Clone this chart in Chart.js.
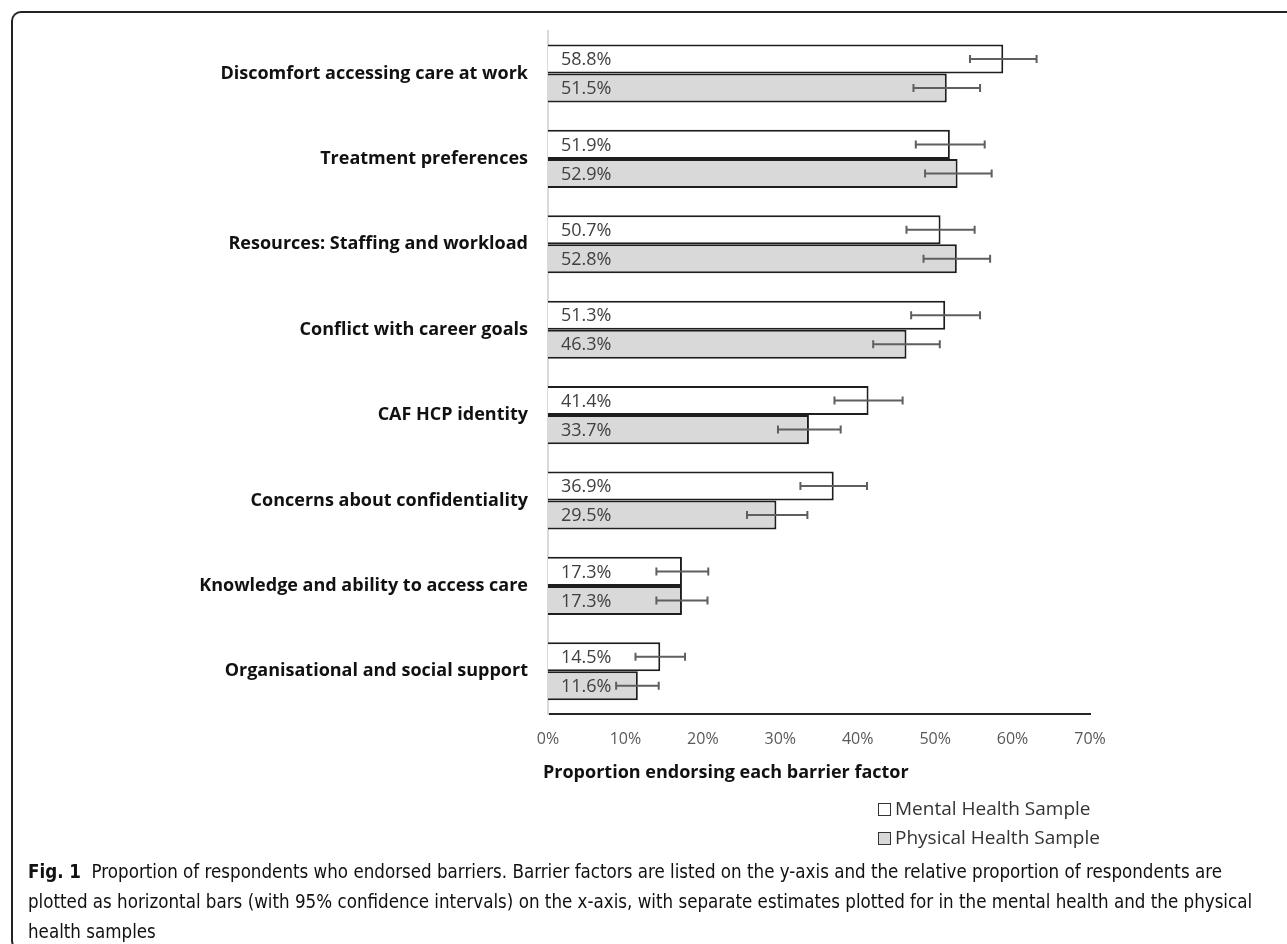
<!DOCTYPE html>
<html>
<head>
<meta charset="utf-8">
<script src="https://cdn.jsdelivr.net/npm/chart.js@4.4.0/dist/chart.umd.min.js"></script>
<style>
  html, body { margin:0; padding:0; background:#fff; width:1287px; height:944px; overflow:hidden; }
  #frame { position:absolute; left:11px; top:11px; width:1300px; height:940px; border-top:2px solid #222; border-left:2px solid #222; border-bottom:2px solid #222; border-radius:10px 0 0 10px; box-sizing:border-box; }
  #wrap { position:absolute; left:0; top:0; width:1287px; height:860px; }
  #xtitle { position:absolute; left:543px; top:759px; font-family:"Open Sans", sans-serif; font-weight:bold; font-size:18px; color:#111; white-space:nowrap; }
  .leg { position:absolute; left:878px; height:26px; line-height:26px; font-family:"Open Sans", sans-serif; font-size:19px; color:#333; white-space:nowrap; }
  .leg i { display:inline-block; width:11px; height:11px; border:1.5px solid #333; margin-right:4px; vertical-align:-1px; }
  #caption { position:absolute; left:28px; top:857px; font-family:"DejaVu Sans Condensed", "Liberation Sans Narrow", sans-serif; font-size:18.6px; line-height:30px; color:#111; white-space:nowrap; }
</style>
</head>
<body>
<div id="frame"></div>
<div id="wrap"><canvas id="c" width="1287" height="860"></canvas></div>
<div id="xtitle">Proportion endorsing each barrier factor</div>
<div class="leg" style="top:795px;"><i style="background:#fff"></i>Mental Health Sample</div>
<div class="leg" style="top:824px;"><i style="background:#d9d9d9"></i>Physical Health Sample</div>
<div id="caption"><b>Fig. 1</b>&nbsp; Proportion of respondents who endorsed barriers. Barrier factors are listed on the y-axis and the relative proportion of respondents are<br>plotted as horizontal bars (with 95% confidence intervals) on the x-axis, with separate estimates plotted for in the mental health and the physical<br>health samples</div>
<script>
const categories = [
  "Discomfort accessing care at work",
  "Treatment preferences",
  "Resources: Staffing and workload",
  "Conflict with career goals",
  "CAF HCP identity",
  "Concerns about confidentiality",
  "Knowledge and ability to access care",
  "Organisational and social support"
];
const mentalValues   = [58.8, 51.9, 50.7, 51.3, 41.4, 36.9, 17.3, 14.5];
const mentalLow      = [54.5, 47.5, 46.3, 46.9, 37.0, 32.6, 14.0, 11.3];
const mentalHigh     = [63.1, 56.4, 55.1, 55.8, 45.8, 41.2, 20.7, 17.7];
const physicalValues = [51.5, 52.9, 52.8, 46.3, 33.7, 29.5, 17.3, 11.6];
const physicalLow    = [47.2, 48.7, 48.5, 42.0, 29.7, 25.7, 14.0, 8.8];
const physicalHigh   = [55.8, 57.3, 57.1, 50.6, 37.8, 33.5, 20.6, 14.3];
const xTicks = [0, 10, 20, 30, 40, 50, 60, 70];

const errLows = [mentalLow, physicalLow];
const errHighs = [mentalHigh, physicalHigh];

const overlay = {
  id: 'overlay',
  afterDatasetsDraw(chart) {
    const ctx = chart.ctx;
    const xs = chart.scales.x;
    ctx.save();
    chart.data.datasets.forEach((ds, di) => {
      const meta = chart.getDatasetMeta(di);
      meta.data.forEach((bar, i) => {
        const y = bar.y;
        ctx.fillStyle = '#404040';
        ctx.font = '18px "Open Sans", sans-serif';
        ctx.textAlign = 'left';
        ctx.textBaseline = 'middle';
        ctx.fillText(ds.data[i].toFixed(1) + '%', xs.left + 13, y + 1);
        const x1 = xs.getPixelForValue(errLows[di][i]);
        const x2 = xs.getPixelForValue(errHighs[di][i]);
        ctx.strokeStyle = '#5f5f5f';
        ctx.lineWidth = 2;
        ctx.beginPath();
        ctx.moveTo(x1, y); ctx.lineTo(x2, y);
        ctx.moveTo(x1, y - 4); ctx.lineTo(x1, y + 4);
        ctx.moveTo(x2, y - 4); ctx.lineTo(x2, y + 4);
        ctx.stroke();
      });
    });
    ctx.restore();
  }
};

new Chart(document.getElementById('c'), {
  type: 'bar',
  data: {
    labels: categories,
    datasets: [
      { label: 'Mental Health Sample', data: mentalValues, backgroundColor: '#ffffff', borderColor: '#1e1e1e', borderWidth: 2 },
      { label: 'Physical Health Sample', data: physicalValues, backgroundColor: '#d9d9d9', borderColor: '#1e1e1e', borderWidth: 2 }
    ]
  },
  options: {
    indexAxis: 'y',
    responsive: false,
    animation: false,
    layout: { padding: { top: 27, right: 197, bottom: 0, left: 0 } },
    datasets: { bar: { barPercentage: 1.0, categoryPercentage: 0.68 } },
    plugins: { legend: { display: false }, tooltip: { enabled: false } },
    scales: {
      x: {
        min: 0, max: 70,
        afterFit(s) { s.height = 146; },
        afterBuildTicks(s) { s.ticks = xTicks.map(v => ({ value: v })); },
        grid: { display: false, drawTicks: false },
        border: { display: true, color: '#262626', width: 2 },
        ticks: { padding: 16, color: '#595959', font: { family: 'Open Sans', size: 16 }, callback: v => v + '%' }
      },
      y: {
        afterFit(s) { s.width = 548; },
        grid: { display: false, drawTicks: false },
        border: { display: true, color: '#d9d9d9', width: 2 },
        ticks: { padding: 20, color: '#111', font: { family: 'Open Sans', size: 18, weight: 'bold' } }
      }
    }
  },
  plugins: [overlay]
});
</script>
</body>
</html>
